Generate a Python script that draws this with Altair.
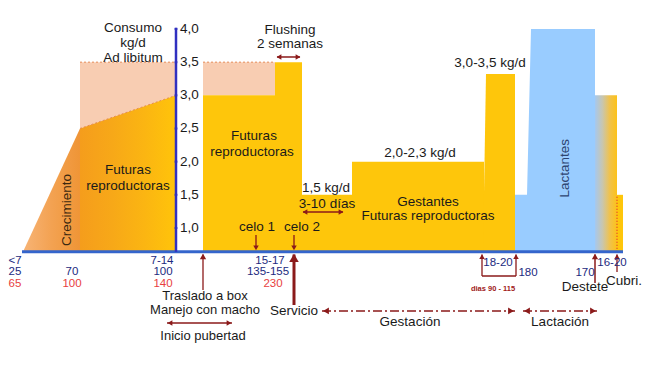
import altair as alt
import pandas as pd

# ---------------- data -----------------
BASE = 0.64                      # intake level (kg/d) at which the timeline axis sits
X_DOMAIN = [8, 642]              # timeline positions
Y_DOMAIN = [-0.96, 4.3166]       # kg/d

# intake axis
tick_vals = [1.0, 1.5, 2.0, 2.5, 3.0, 3.5, 4.0]
tick_text = ["1,0", "1,5", "2,0", "2,5", "3,0", "3,5", "4,0"]
axis_pos = 176
axis_top = 4.02

# ad libitum phase (growth + future breeders)
growth_x = [23, 80]
growth_top = [BASE, 2.5]
gilt_x = [80, 176]
gilt_top = [2.5, 3.0]
adlib_max = 3.5

# restricted feeding steps
step_start = [203, 275, 302, 352, 617]
step_end = [275, 302, 352, 484, 623]
step_top = [3.0, 3.5, 1.5, 2.0, 1.5]
hatch2_start, hatch2_end, hatch2_low = 203, 275, 3.0

late_x = [483, 486, 515]
late_top = [BASE, 3.32, 3.32]
lact_x = [515, 527, 531, 595]
lact_top = [1.5, 1.5, 4.0, 4.0]
wean_x = [595, 617]
wean_top = [3.0, 3.0]
cover_pos, cover_top = 617, 1.5
timeline_start, timeline_end = 22, 623

# black labels
lab_text = ["Consumo", "kg/d", "Ad libitum", "Flushing", "2 semanas",
            "Futuras", "reproductoras", "Futuras", "reproductoras",
            "1,5 kg/d", "3-10 días", "celo 1", "celo 2", "2,0-2,3 kg/d",
            "Gestantes", "Futuras reproductoras", "3,0-3,5 kg/d",
            "Servicio", "Gestación", "Lactación", "Destete", "Cubri."]
lab_x = [133, 133, 133, 290, 290, 128, 128, 254, 252, 326, 327, 257, 302, 420,
         428, 428, 490, 294, 410, 560, 585, 624]
lab_y = [4.015, 3.789, 3.563, 3.985, 3.774, 1.874, 1.633, 2.387, 2.146, 1.603,
         1.362, 1.015, 1.015, 2.13, 1.392, 1.181, 3.487,
         -0.251, -0.417, -0.417, 0.110, 0.201]

# labels under the first part of the timeline
low_text = ["Traslado a box", "Manejo con macho", "Inicio pubertad"]
low_x = [205, 205, 203]
low_y = [-0.025, -0.236, -0.628]

# rotated labels
rot_text = ["Crecimiento", "Lactantes"]
rot_x = [67, 565]
rot_y = [1.27, 1.90]

# ages (days) - navy
age_text = ["<7", "25", "70", "7-14", "100", "15-17", "135-155", "18-20", "180", "170", "16-20"]
age_x = [15, 15, 72, 162, 163, 270, 268, 498, 528, 585, 612]
age_y = [0.502, 0.336, 0.336, 0.502, 0.336, 0.502, 0.336, 0.472, 0.321, 0.321, 0.472]

# weights (kg) - red
kg_text = ["65", "100", "140", "230"]
kg_x = [15, 72, 163, 273]
kg_y = [0.163, 0.163, 0.163, 0.163]

# arrows (solid): x, x2, y, y2, width
arr_x = [277, 303, 256, 294, 203, 294, 167, 482, 516, 482, 595, 617]
arr_x2 = [300, 343, 256, 294, 203, 294, 232, 482, 516, 516, 595, 617]
arr_y = [3.578, 1.241, 0.894, 0.894, 0.065, -0.161, -0.432, 0.276, 0.276, 0.276, 0.170, 0.337]
arr_y2 = [3.578, 1.241, 0.70, 0.70, 0.60, 0.60, -0.432, 0.60, 0.60, 0.276, 0.60, 0.60]
arr_w = [1.5, 1.5, 1.3, 1.3, 1.3, 3, 1.5, 1.3, 1.3, 1.3, 1.5, 1.3]

# phase lines (dash-dot)
phase_x = [322, 523]
phase_x2 = [515, 597]
phase_y = [-0.251, -0.251]

# arrowheads
head_x = [279, 298, 305, 341, 256, 294, 203, 294, 170, 229, 326, 511, 527, 593, 482, 516, 595, 617]
head_y = [3.578, 3.578, 1.241, 1.241, 0.70, 0.70, 0.57, 0.55, -0.432, -0.432, -0.251, -0.251,
          -0.251, -0.251, 0.57, 0.57, 0.57, 0.57]
head_shape = ["triangle-left", "triangle-right", "triangle-left", "triangle-right",
              "triangle-down", "triangle-down", "triangle-up", "triangle-up",
              "triangle-left", "triangle-right", "triangle-left", "triangle-right",
              "triangle-left", "triangle-right", "triangle-up", "triangle-up",
              "triangle-up", "triangle-up"]
head_size = [30, 30, 30, 30, 30, 30, 40, 90, 30, 30, 45, 45, 45, 45, 30, 30, 40, 30]

# ---------------- chart -----------------
xs = alt.Scale(domain=X_DOMAIN, nice=False, zero=False)
ys = alt.Scale(domain=Y_DOMAIN, nice=False, zero=False)
FONT = "Liberation Sans"
DARKRED = "#8b1a1a"
YELLOW = "#fec60b"


def X(f="x"):
    return alt.X(f"{f}:Q", scale=xs, axis=None)


def Y(f="y"):
    return alt.Y(f"{f}:Q", scale=ys, axis=None)


def grad(colors, horizontal=True):
    n = len(colors) - 1
    stops = [alt.GradientStop(color=c, offset=i / n) for i, c in enumerate(colors)]
    if horizontal:
        return alt.LinearGradient(gradient="linear", stops=stops, x1=0, x2=1, y1=0, y2=0)
    return alt.LinearGradient(gradient="linear", stops=stops, x1=0, x2=0, y1=0, y2=1)


def area(xv, top, bottom, fill):
    bot = bottom if isinstance(bottom, list) else [bottom] * len(xv)
    df = pd.DataFrame({"x": xv, "y": top, "y2": bot})
    return alt.Chart(df).mark_area(color=fill, strokeWidth=0).encode(
        x=X(), y=Y(), y2=alt.Y2("y2:Q"))


layers = []
# ad libitum hatched zones (approximated as light peach)
HATCH = "#f8cdb2"
layers.append(area(gilt_x, [adlib_max, adlib_max], gilt_top, HATCH))
layers.append(area([hatch2_start, hatch2_end], [adlib_max, adlib_max], hatch2_low, HATCH))
# growth + future breeders
layers.append(area(growth_x, growth_top, BASE, grad(["#f7b476", "#f3a252", "#ef9536"])))
layers.append(area(gilt_x, gilt_top, BASE, grad(["#f59d1c", "#f7a818", "#fbb512", "#ffc40a"])))

# steps
steps = pd.DataFrame({"x": step_start, "x2": step_end, "y": step_top, "y2": BASE})
layers.append(alt.Chart(steps).mark_rect(color=YELLOW).encode(
    x=X(), x2="x2:Q", y=Y(), y2="y2:Q"))
layers.append(area(late_x, late_top, BASE, YELLOW))
layers.append(area(lact_x, lact_top, BASE, "#99ccff"))
layers.append(area(wean_x, wean_top, BASE, grad(["#a6c8ee", "#c8c6b0", "#f0c24c", "#fcc21a"])))

# dotted borders of hatch
dots = pd.DataFrame({"x": [gilt_x[0], gilt_x[0], hatch2_start],
                     "x2": [gilt_x[1], gilt_x[1], hatch2_end],
                     "y": [adlib_max, gilt_top[0], adlib_max],
                     "y2": [adlib_max, gilt_top[1], adlib_max]})
layers.append(alt.Chart(dots).mark_rule(color="#e58a55", strokeDash=[2, 2], strokeWidth=1).encode(
    x=X(), x2="x2:Q", y=Y(), y2="y2:Q"))
red_dot = pd.DataFrame({"x": [cover_pos], "y": [BASE], "y2": [cover_top]})
layers.append(alt.Chart(red_dot).mark_rule(color="#e03030", strokeDash=[1, 2], strokeWidth=1.2).encode(
    x=X(), y=Y(), y2="y2:Q"))

# axes
base_df = pd.DataFrame({"x": [timeline_start], "x2": [timeline_end], "y": [BASE]})
layers.append(alt.Chart(base_df).mark_rule(color="#3465cc", strokeWidth=3).encode(
    x=X(), x2="x2:Q", y=Y()))
yax = pd.DataFrame({"x": [axis_pos], "y": [BASE], "y2": [axis_top]})
layers.append(alt.Chart(yax).mark_rule(color="#3030c0", strokeWidth=2.5).encode(
    x=X(), y=Y(), y2="y2:Q"))
ticks = pd.DataFrame({"y": tick_vals, "t": tick_text, "x": axis_pos})
layers.append(alt.Chart(ticks).mark_tick(color="#3030c0", thickness=2, size=3, orient="horizontal").encode(
    x=X(), y=Y()))
layers.append(alt.Chart(ticks).mark_text(align="left", baseline="middle", font=FONT, fontSize=13.5,
                                         color="#1a1a1a", dx=4).encode(x=X(), y=Y(), text="t:N"))

# arrows
arrows = pd.DataFrame({"x": arr_x, "x2": arr_x2, "y": arr_y, "y2": arr_y2, "w": arr_w})
layers.append(alt.Chart(arrows).mark_rule(color=DARKRED).encode(
    x=X(), x2="x2:Q", y=Y(), y2="y2:Q", size=alt.Size("w:Q", scale=None)))
phases = pd.DataFrame({"x": phase_x, "x2": phase_x2, "y": phase_y})
layers.append(alt.Chart(phases).mark_rule(color=DARKRED, strokeDash=[9, 3, 2, 3], strokeWidth=1.5).encode(
    x=X(), x2="x2:Q", y=Y()))
heads = pd.DataFrame({"x": head_x, "y": head_y, "s": head_shape, "z": head_size})
layers.append(alt.Chart(heads).mark_point(filled=True, color=DARKRED, opacity=1).encode(
    x=X(), y=Y(), shape=alt.Shape("s:N", scale=None), size=alt.Size("z:Q", scale=None)))

# texts
labels = pd.DataFrame({"x": lab_x, "y": lab_y, "t": lab_text})
layers.append(alt.Chart(labels).mark_text(align="center", baseline="middle", font=FONT, fontSize=13.5,
                                          color="#1a1a1a").encode(x=X(), y=Y(), text="t:N"))
low = pd.DataFrame({"x": low_x, "y": low_y, "t": low_text})
layers.append(alt.Chart(low).mark_text(align="center", baseline="middle", font=FONT, fontSize=13,
                                       color="#1a1a1a").encode(x=X(), y=Y(), text="t:N"))
rot = pd.DataFrame({"x": rot_x, "y": rot_y, "t": rot_text, "c": ["#3a2810", "#2e4470"]})
layers.append(alt.Chart(rot).mark_text(align="center", baseline="middle", font=FONT, fontSize=13.5,
                                       angle=270).encode(x=X(), y=Y(), text="t:N",
                                                         color=alt.Color("c:N", scale=None)))
ages = pd.DataFrame({"x": age_x, "y": age_y, "t": age_text})
layers.append(alt.Chart(ages).mark_text(align="center", baseline="middle", font=FONT, fontSize=11.5,
                                        color="#1c2a80").encode(x=X(), y=Y(), text="t:N"))
kgs = pd.DataFrame({"x": kg_x, "y": kg_y, "t": kg_text})
layers.append(alt.Chart(kgs).mark_text(align="center", baseline="middle", font=FONT, fontSize=11.5,
                                       color="#e84040").encode(x=X(), y=Y(), text="t:N"))
days = pd.DataFrame({"x": [493], "y": [0.08], "t": ["dias 90 - 115"]})
layers.append(alt.Chart(days).mark_text(align="center", baseline="middle", font=FONT, fontSize=7.5,
                                        fontWeight="bold", color="#a02020").encode(x=X(), y=Y(), text="t:N"))

chart = alt.layer(*layers).properties(
    width=634, height=350, padding=0,
    autosize=alt.AutoSizeParams(type="none"),
    background="white",
).configure_view(strokeWidth=0)

chart.save("out.html", embed_options={"renderer": "svg", "actions": False})
